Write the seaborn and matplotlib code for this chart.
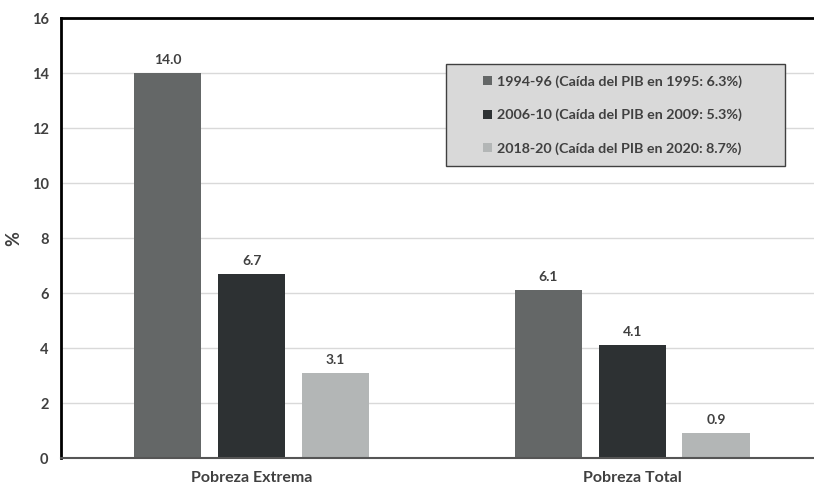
import matplotlib
matplotlib.use("Agg")
import matplotlib.pyplot as plt
from matplotlib.patches import Rectangle
import seaborn as sns
import pandas as pd

categories = ["Pobreza Extrema", "Pobreza Total"]
periods = [
    "1994-96 (Caída del PIB en 1995: 6.3%)",
    "2006-10 (Caída del PIB en 2009: 5.3%)",
    "2018-20 (Caída del PIB en 2020: 8.7%)",
]
values_1994 = [14.0, 6.1]
values_2006 = [6.7, 4.1]
values_2018 = [3.1, 0.9]
colors = ["#646767", "#2d3133", "#b3b6b6"]
y_ticks = [0, 2, 4, 6, 8, 10, 12, 14, 16]

df = pd.DataFrame({
    "categoria": categories * 3,
    "periodo": [periods[0]] * 2 + [periods[1]] * 2 + [periods[2]] * 2,
    "valor": values_1994 + values_2006 + values_2018,
})

sns.set_theme(style="white")
plt.rcParams["font.family"] = ["Lato", "DejaVu Sans"]
text_color = "#404040"

fig = plt.figure(figsize=(8.14, 4.86), dpi=100)
ax = fig.add_axes([0.075, 0.0576, 0.925, 0.905])

sns.barplot(data=df, x="categoria", y="valor", hue="periodo",
            palette=colors, width=0.662, gap=0.2, ax=ax,
            saturation=1, edgecolor="none", legend=True)

ax.set_ylim(0, 16)
ax.set_xlim(-0.5007, 1.478)
ax.set_yticks(y_ticks)
ax.yaxis.grid(True, color="#d9d9d9", linewidth=1)
ax.set_axisbelow(True)

for container in ax.containers:
    ax.bar_label(container, fmt="%.1f", padding=5, fontsize=10,
                 fontweight="bold", color=text_color)

for side in ["top", "left"]:
    ax.spines[side].set_color("black")
    ax.spines[side].set_linewidth(2)
ax.spines["right"].set_visible(False)
ax.spines["bottom"].set_color("#555555")
ax.spines["bottom"].set_linewidth(1.5)

ax.set_xlabel("")
ax.set_ylabel("%", fontsize=13, fontweight="bold", color=text_color)
ax.yaxis.set_label_coords(-0.051, 0.5)
ax.tick_params(axis="y", labelsize=10.5, colors=text_color, length=0, pad=9)
ax.tick_params(axis="x", labelsize=11.5, colors=text_color, length=0, pad=9)
for lbl in ax.get_yticklabels() + ax.get_xticklabels():
    lbl.set_fontweight("bold")

# legend panel
ax.add_patch(Rectangle((0.5113, 0.6636), 0.4502, 0.2319, transform=ax.transAxes,
                       facecolor="#d9d9d9", edgecolor="#404040", linewidth=1,
                       zorder=4))
handles, labels = ax.get_legend_handles_labels()
leg = ax.legend(handles, labels, loc="center left",
                bbox_to_anchor=(0.5604, 0.7795), frameon=False,
                prop={"weight": "bold", "size": 10.3},
                handlelength=0.6, handleheight=0.6, handletextpad=0.35,
                labelspacing=1.45, borderpad=0, borderaxespad=0)
leg.set_zorder(6)
for t in leg.get_texts():
    t.set_color(text_color)

fig.savefig("out.png", dpi=100)
